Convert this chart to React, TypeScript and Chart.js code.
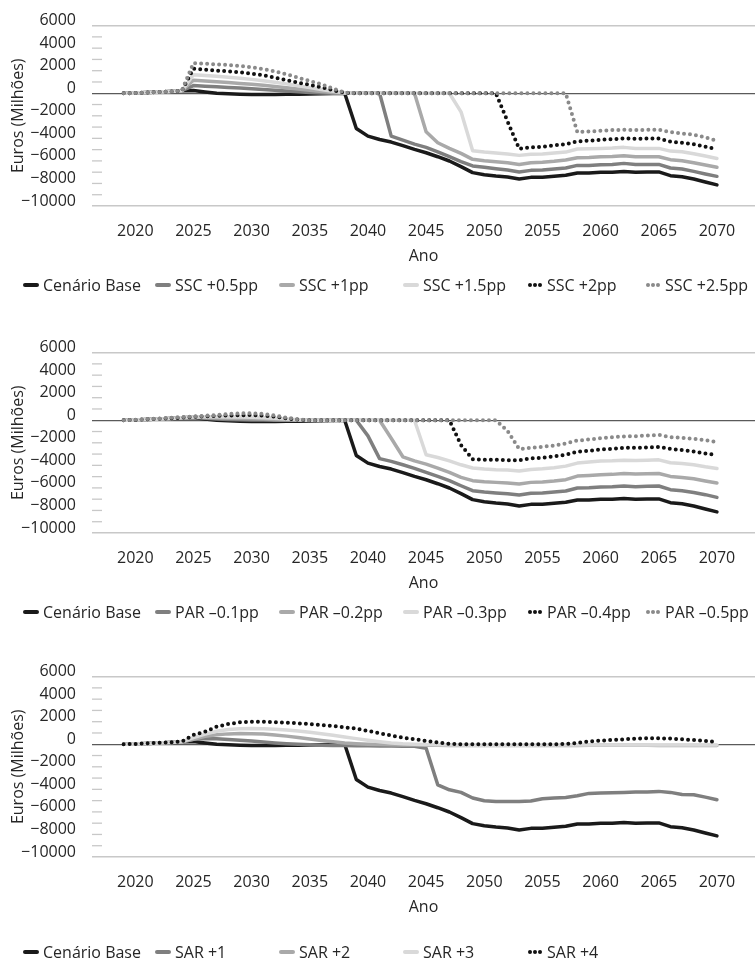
import React, { useEffect, useRef } from "react";
import { Chart, registerables } from "chart.js";

Chart.register(...registerables);

// ---------- data ----------
const years = [
  2019, 2020, 2021, 2022, 2023, 2024, 2025, 2026, 2027, 2028, 2029, 2030, 2031,
  2032, 2033, 2034, 2035, 2036, 2037, 2038, 2039, 2040, 2041, 2042, 2043, 2044,
  2045, 2046, 2047, 2048, 2049, 2050, 2051, 2052, 2053, 2054, 2055, 2056, 2057,
  2058, 2059, 2060, 2061, 2062, 2063, 2064, 2065, 2066, 2067, 2068, 2069, 2070,
];
const xTickYears = [2020, 2025, 2030, 2035, 2040, 2045, 2050, 2055, 2060, 2065, 2070];
const xRange = [2016.28, 2073.27];
const yRange = [-10000, 6000];
const yLabelStep = 2000;
const yMinorStep = 1000;

const cenarioBase = [
  0, 20, 60, 100, 150, 220,
  250, 120, 0, -50, -80, -100, -100, -100, -90, -80, -60, -40, -20, 0,
  -3120, -3800, -4100, -4330, -4650, -4980, -5280, -5630, -6010, -6510, -7040, -7220,
  -7340, -7430, -7600, -7460, -7460, -7370, -7280, -7070, -7070, -7010, -7010, -6930,
  -7010, -6980, -6980, -7310, -7400, -7600, -7870, -8130,
];

// SSC scenarios
const ssc05 = [
  0, 20, 60, 100, 150, 220,
  680, 630, 580, 520, 460, 400, 330, 260, 190, 130, 70, 30, 0, 0,
  0, 0, 0,
  -3800, -4160, -4510, -4800, -5190, -5630, -6070, -6450, -6570, -6690, -6810, -6980,
  -6840, -6810, -6720, -6630, -6400, -6400, -6340, -6310, -6220, -6310, -6310, -6310,
  -6630, -6720, -6930, -7160, -7370,
];
const ssc1 = [
  0, 20, 60, 100, 150, 220,
  1150, 1090, 1020, 950, 870, 790, 700, 600, 490, 380, 270, 160, 70, 10,
  0, 0, 0, 0, 0, 0,
  -3420, -4390, -4890, -5330, -5860, -5980, -6070, -6160, -6310, -6160, -6130, -6040,
  -5920, -5720, -5690, -5630, -5600, -5540, -5630, -5630, -5630, -5890, -5980, -6160,
  -6370, -6570,
];
const ssc15 = [
  0, 20, 60, 100, 150, 220,
  1650, 1580, 1500, 1420, 1330, 1230, 1110, 980, 830, 670, 500, 330, 170, 40,
  0, 0, 0, 0, 0, 0, 0, 0, 0,
  -1650, -5100, -5220, -5300, -5390, -5510, -5420, -5390, -5300, -5220, -4950, -4920,
  -4890, -4860, -4800, -4890, -4890, -4890, -5130, -5190, -5360, -5570, -5780,
];
const ssc2 = [
  0, 20, 60, 100, 150, 220,
  2180, 2090, 2000, 1945, 1860, 1740, 1590, 1385, 1150, 940, 740, 530, 265, 30,
  0, 0, 0, 0, 0, 0, 0, 0, 0, 0, 0, 0, 0,
  -2500, -4920, -4800, -4740, -4630, -4510, -4270, -4210, -4130, -4070, -4010, -4040,
  -4010, -4010, -4300, -4390, -4510, -4740, -4980,
];
const ssc25 = [
  0, 20, 60, 100, 150, 220,
  2680, 2620, 2560, 2500, 2420, 2300, 2150, 1945, 1680, 1385, 1090, 800, 410, 60,
  0, 0, 0, 0, 0, 0, 0, 0, 0, 0, 0, 0, 0, 0, 0, 0, 0, 0, 0,
  -3450, -3390, -3330, -3270, -3240, -3270, -3240, -3240, -3450, -3570, -3680, -3920, -4210,
];

// PAR scenarios
const par01 = [
  0, 20, 60, 100, 150, 220, 270, 180, 110, 70, 50, 30, 20, 10, 0, 0, 0, 0, 0, 0,
  0, -1385, -3400,
  -3650, -3950, -4270, -4630, -4980, -5360, -5810, -6250, -6370, -6450, -6510, -6630,
  -6480, -6450, -6370, -6280, -6010, -5980, -5920, -5890, -5830, -5890, -5860, -5830,
  -6160, -6250, -6400, -6600, -6840,
];
const par02 = [
  0, 20, 60, 100, 150, 220, 280, 240, 200, 170, 150, 130, 100, 70, 40, 20, 0, 0, 0, 0,
  0, 0, 0, -1600, -3240,
  -3600, -3890, -4240, -4630, -5070, -5360, -5450, -5510, -5570, -5660, -5510, -5480,
  -5390, -5270, -4950, -4890, -4830, -4800, -4720, -4770, -4740, -4720, -4980, -5070,
  -5190, -5390, -5570,
];
const par03 = [
  0, 20, 60, 100, 150, 220, 290, 300, 300, 290, 280, 260, 220, 170, 110, 50, 10, 0, 0, 0,
  0, 0, 0, 0, 0, 0,
  -3060, -3300, -3600, -3950, -4240, -4330, -4390, -4420, -4510, -4360, -4300, -4210,
  -4070, -3800, -3710, -3620, -3600, -3540, -3570, -3540, -3510, -3770, -3830, -3950,
  -4130, -4270,
];
const par04 = [
  0, 30, 80, 120, 170, 230, 300, 340, 380, 420, 450, 460, 410, 310, 170, 50, 0, 0, 0, 0,
  0, 0, 0, 0, 0, 0, 0, 0, 0,
  -2200, -3450, -3510, -3510, -3540, -3540, -3390, -3330, -3210, -3060, -2800, -2710,
  -2590, -2530, -2450, -2450, -2420, -2360, -2530, -2650, -2770, -2950, -3090,
];
const par05 = [
  0, 40, 100, 150, 220, 280, 340, 400, 470, 560, 610, 620, 560, 420, 230, 70, 0, 0, 0, 0,
  0, 0, 0, 0, 0, 0, 0, 0, 0, 0, 0, 0, 0,
  -940, -2560, -2450, -2360, -2240, -2060, -1800, -1710, -1590, -1500, -1440, -1410,
  -1360, -1300, -1500, -1560, -1650, -1770, -1920,
];

// SAR scenarios
const sar1 = [
  0, 20, 60, 100, 150, 220,
  450, 500, 480, 420, 350, 280, 200, 120, 50, 0, -50, -80, -100, -120, -130, -140,
  -150, -160, -170, -180,
  -350,
  -3600, -4040, -4270, -4770, -5010, -5070, -5070, -5070, -5040, -4830, -4770, -4720,
  -4570, -4360, -4330, -4300, -4270, -4240, -4240, -4180, -4270, -4450, -4480, -4690, -4920,
];
const sar2 = [
  0, 20, 60, 100, 150, 220,
  450, 700, 850, 920, 950, 940, 900, 820, 720, 600, 470, 340, 220, 120, 50, 0, -30,
  -50, -60, -70,
  -80, -90, -100, -100, -110, -110, -110, -110, -110, -110, -110, -100, -100, -100,
  -90, -90, -90, -90, -90, -90, -100, -100, -100, -100, -100, -100,
];
const sar3 = [
  0, 20, 60, 100, 150, 220,
  600, 900, 1150, 1300, 1380, 1400, 1380, 1330, 1260, 1170, 1060, 940, 800, 650, 500,
  350, 220, 110, 40, 0,
  -30, -50, -60, -70, -80, -80, -80, -80, -80, -80, -70, -70, -70, -60, -60, -60, -60,
  -60, -60, -60, -60, -70, -70, -70, -70, -70,
];
const sar4 = [
  0, 30, 80, 120, 170, 240,
  825, 1120, 1560, 1800, 1945, 2000, 2000, 1945, 1915, 1860, 1800, 1710, 1620, 1500,
  1385, 1180, 980, 770, 590, 440, 295, 150, 30, 0, 0, 0, 0, 0, 0, 0, 0, 0, 30, 120,
  240, 320, 380, 440, 500, 530, 530, 500, 440, 380, 290, 200,
];

const sscLabels = ["Cenário Base", "SSC +0.5pp", "SSC +1pp", "SSC +1.5pp", "SSC +2pp", "SSC +2.5pp"];
const parLabels = ["Cenário Base", "PAR –0.1pp", "PAR –0.2pp", "PAR –0.3pp", "PAR –0.4pp", "PAR –0.5pp"];
const sarLabels = ["Cenário Base", "SAR +1", "SAR +2", "SAR +3", "SAR +4"];

// ---------- styles ----------
const FONT = "'Open Sans', 'DejaVu Sans', sans-serif";
const TEXT = "#262626";
const seriesStyles = [
  { color: "#1a1a1a", dotted: false },
  { color: "#7f7f7f", dotted: false },
  { color: "#a9a9a9", dotted: false },
  { color: "#d9d9d9", dotted: false },
  { color: "#111111", dotted: true },
  { color: "#8a8a8a", dotted: true },
];
const legendXs = [23, 155, 279, 403, 527, 645];

Chart.defaults.font.family = FONT;
Chart.defaults.color = TEXT;

const minorTicks = {
  id: "minorTicks",
  beforeDatasetsDraw(chart: any) {
    const { ctx, chartArea, scales } = chart;
    const ys = scales.y;
    ctx.save();
    ctx.strokeStyle = "#c8c8c8";
    ctx.lineWidth = 1.3;
    for (let v = yRange[0] + yMinorStep; v < yRange[1]; v += yMinorStep) {
      if (v === 0) continue;
      const py = ys.getPixelForValue(v);
      ctx.beginPath();
      ctx.moveTo(chartArea.left, py);
      ctx.lineTo(chartArea.left + 10, py);
      ctx.stroke();
    }
    ctx.restore();
  },
};

const columnLegend = {
  id: "columnLegend",
  afterDraw(chart: any, _args: any, opts: any) {
    const { ctx } = chart;
    const y = opts.y;
    chart.data.datasets.forEach((ds: any, i: number) => {
      const x = opts.xs[i];
      ctx.save();
      const dotted = ds.borderDash && ds.borderDash.length > 0;
      if (dotted) {
        ctx.fillStyle = ds.borderColor;
        for (let k = 0; k < 3; k++) {
          ctx.beginPath();
          ctx.arc(x + 3 + k * 5, y, 2, 0, Math.PI * 2);
          ctx.fill();
        }
      } else {
        ctx.strokeStyle = ds.borderColor;
        ctx.lineWidth = 4;
        ctx.lineCap = "round";
        ctx.beginPath();
        ctx.moveTo(x + 2, y);
        ctx.lineTo(x + 14, y);
        ctx.stroke();
      }
      ctx.fillStyle = TEXT;
      ctx.font = "16px " + FONT;
      ctx.textBaseline = "middle";
      ctx.textAlign = "left";
      ctx.fillText(ds.label, x + 20, y + 1);
      ctx.restore();
    });
  },
};

function fmtY(v: number) {
  return v < 0 ? "\u2212" + Math.abs(v) : String(v);
}

type PanelProps = {
  top: number;
  height: number;
  labels: string[];
  series: number[][];
  legendY: number;
};

function Panel({ top, height, labels, series, legendY }: PanelProps) {
  const ref = useRef<HTMLCanvasElement>(null);
  useEffect(() => {
    const datasets = series.map((vals, i) => {
      const st = seriesStyles[i];
      return {
        label: labels[i],
        data: years.map((yr, k) => ({ x: yr, y: vals[k] })),
        borderColor: st.color,
        backgroundColor: st.color,
        borderWidth: st.dotted ? 4 : 3.5,
        borderDash: st.dotted ? [0, 6] : [],
        borderCapStyle: "round",
        borderJoinStyle: "round",
        pointRadius: 0,
        tension: 0,
        fill: false,
        order: -i,
      };
    });
    const chart = new Chart(ref.current as HTMLCanvasElement, {
      type: "line",
      data: { datasets } as any,
      plugins: [minorTicks, columnLegend],
      options: {
        animation: false,
        responsive: false,
        devicePixelRatio: 1,
        layout: { padding: { top: 25, left: 0, right: 0, bottom: height - 266 } },
        plugins: {
          legend: { display: false },
          tooltip: { enabled: false },
          columnLegend: { xs: legendXs, y: legendY },
        } as any,
        scales: {
          x: {
            type: "linear",
            min: xRange[0],
            max: xRange[1],
            afterBuildTicks: (scale: any) => {
              scale.ticks = xTickYears.map((v) => ({ value: v }));
            },
            afterFit: (scale: any) => {
              scale.height = 60;
            },
            grid: { display: false, drawTicks: false },
            border: { display: false },
            ticks: {
              padding: 16,
              font: { size: 16, family: FONT },
              color: TEXT,
              maxRotation: 0,
              autoSkip: false,
              callback: (v: any) => String(v),
            },
            title: {
              display: true,
              text: "Ano",
              font: { size: 16, family: FONT },
              color: TEXT,
              padding: { top: 0, bottom: 0 },
            },
          },
          y: {
            type: "linear",
            min: yRange[0],
            max: yRange[1],
            afterFit: (scale: any) => {
              scale.width = 92;
            },
            ticks: {
              stepSize: yLabelStep,
              padding: 16,
              labelOffset: -5,
              font: { size: 16, family: FONT },
              color: TEXT,
              callback: (v: any) => fmtY(Number(v)),
            },
            grid: {
              drawTicks: false,
              color: (c: any) => {
                const v = c.tick && c.tick.value;
                if (v === 0) return "#5a5a5a";
                if (v === yRange[0] || v === yRange[1]) return "#c8c8c8";
                return "rgba(0,0,0,0)";
              },
              lineWidth: (c: any) => (c.tick && c.tick.value === 0 ? 1.2 : 1.5),
            },
            border: { display: false },
            title: {
              display: true,
              text: "Euros (Milhões)",
              font: { size: 16, family: FONT },
              color: TEXT,
              padding: { top: 9, bottom: 0 },
            },
          },
        },
      } as any,
    });
    return () => chart.destroy();
  }, []);
  return (
    <canvas
      ref={ref}
      width={755}
      height={height}
      style={{ position: "absolute", left: 0, top, width: 755, height }}
    />
  );
}

export default function App() {
  return (
    <div style={{ position: "absolute", left: 0, top: 0, width: 755, height: 967, background: "#fff" }}>
      <Panel
        top={0}
        height={327}
        labels={sscLabels}
        series={[cenarioBase, ssc05, ssc1, ssc15, ssc2, ssc25]}
        legendY={285}
      />
      <Panel
        top={327}
        height={324}
        labels={parLabels}
        series={[cenarioBase, par01, par02, par03, par04, par05]}
        legendY={285}
      />
      <Panel
        top={651}
        height={316}
        labels={sarLabels}
        series={[cenarioBase, sar1, sar2, sar3, sar4]}
        legendY={301}
      />
    </div>
  );
}
